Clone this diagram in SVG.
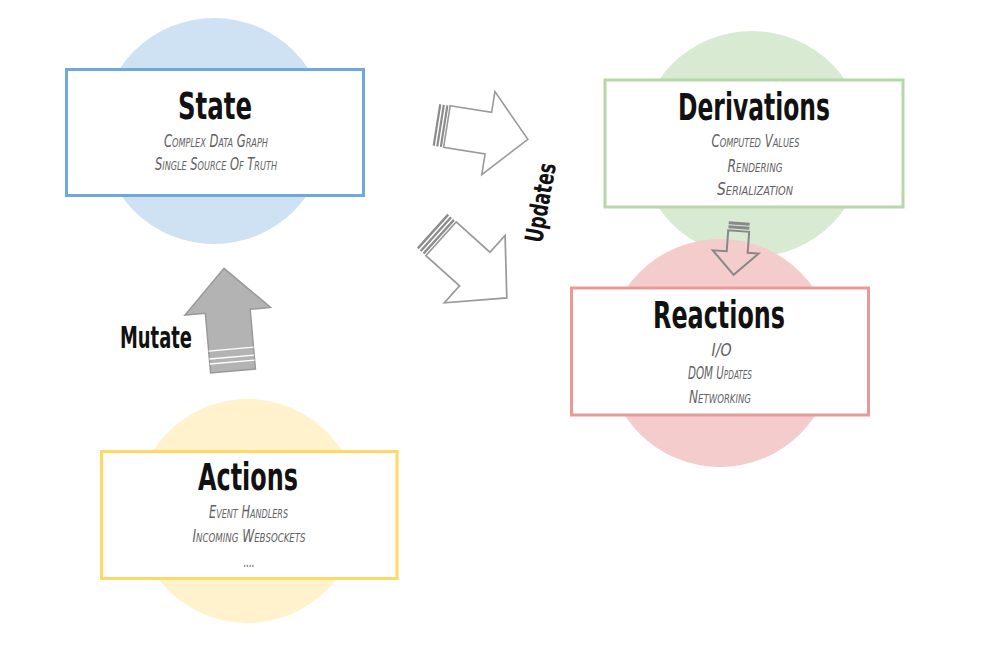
<svg xmlns="http://www.w3.org/2000/svg" width="1008" height="661" viewBox="0 0 1008 661">
<style>
.title{font-family:"DejaVu Sans Condensed","DejaVu Sans",sans-serif;font-weight:bold;fill:#111;text-anchor:middle}
.sub{font-family:"DejaVu Sans Condensed","DejaVu Sans",sans-serif;font-style:italic;font-variant:small-caps;font-size:17px;fill:#626262;text-anchor:middle}
.box{fill:#fff;stroke-width:3}
.outline{fill:none;stroke:#9a9a9a;stroke-width:1.6;stroke-linejoin:miter}
.stripe{stroke:#8c8c8c;stroke-width:2.2}
</style>
<rect width="1008" height="661" fill="#fff"/>
<g id="state">
<circle cx="214" cy="131" r="113" fill="#cfe2f3"/>
<rect class="box" x="66.5" y="69.5" width="297" height="126" stroke="#6fa8dc"/>
<text class="title" x="215" y="119" font-size="37" textLength="74" lengthAdjust="spacingAndGlyphs">State</text>
<text class="sub" x="216" y="147" textLength="104" lengthAdjust="spacingAndGlyphs">Complex Data Graph</text>
<text class="sub" x="216" y="170" textLength="122" lengthAdjust="spacingAndGlyphs">Single Source Of Truth</text>
</g>
<g id="derivations">
<circle cx="752" cy="144" r="113" fill="#d9ead3"/>
</g>
<g id="reactions">
<circle cx="720" cy="353" r="114" fill="#f4cccc"/>
<rect class="box" x="571.5" y="288" width="297" height="127" stroke="#ea9999"/>
<text class="title" x="719" y="328" font-size="37" textLength="132" lengthAdjust="spacingAndGlyphs">Reactions</text>
<text class="sub" x="721.5" y="356" textLength="20" lengthAdjust="spacingAndGlyphs">I/O</text>
<text class="sub" x="720" y="379" textLength="64" lengthAdjust="spacingAndGlyphs">DOM Updates</text>
<text class="sub" x="720" y="402.5" textLength="62" lengthAdjust="spacingAndGlyphs">Networking</text>
</g>
<g id="derivations-box">
<rect class="box" x="605" y="80" width="298" height="127" stroke="#b6d7a8"/>
<text class="title" x="754" y="120" font-size="37" textLength="152" lengthAdjust="spacingAndGlyphs">Derivations</text>
<text class="sub" x="755.5" y="147" textLength="88" lengthAdjust="spacingAndGlyphs">Computed Values</text>
<text class="sub" x="755" y="171.5" textLength="55" lengthAdjust="spacingAndGlyphs">Rendering</text>
<text class="sub" x="755" y="195" textLength="76" lengthAdjust="spacingAndGlyphs">Serialization</text>
</g>
<g id="actions">
<circle cx="247.5" cy="511" r="112" fill="#fff2cc"/>
<rect class="box" x="101.5" y="451.5" width="295.5" height="127" stroke="#ffd966"/>
<text class="title" x="248" y="490" font-size="37" textLength="100" lengthAdjust="spacingAndGlyphs">Actions</text>
<text class="sub" x="248.5" y="518" textLength="79" lengthAdjust="spacingAndGlyphs">Event Handlers</text>
<text class="sub" x="249" y="541.5" textLength="113" lengthAdjust="spacingAndGlyphs">Incoming Websockets</text>
<text class="sub" x="249" y="566.5" textLength="11" lengthAdjust="spacingAndGlyphs">....</text>
</g>
<g id="connectors">
<g id="updates-arrow-1" transform="translate(437,125) rotate(9)">
<line class="stripe" x1="0" y1="-21" x2="0" y2="21"/>
<line class="stripe" x1="3.6" y1="-21" x2="3.6" y2="21"/>
<line class="stripe" x1="7.2" y1="-21" x2="7.2" y2="21"/>
<path class="outline" d="M10,-21 L52,-21 L52,-42 L92,0 L52,42 L52,21 L10,21 Z"/>
</g>
<g id="updates-arrow-2" transform="translate(433,231.5) rotate(42) scale(1.08)">
<line class="stripe" x1="0" y1="-21" x2="0" y2="21"/>
<line class="stripe" x1="3.6" y1="-21" x2="3.6" y2="21"/>
<line class="stripe" x1="7.2" y1="-21" x2="7.2" y2="21"/>
<path class="outline" d="M10,-21 L52,-21 L52,-42 L92,0 L52,42 L52,21 L10,21 Z"/>
</g>
<text class="title" x="0" y="0" font-size="25" textLength="80" lengthAdjust="spacingAndGlyphs" transform="translate(549,204) rotate(-80)">Updates</text>
<g id="mutate-arrow" transform="translate(233,371) rotate(-5)">
<path d="M-22.5,0 L-22.5,-60 L-43,-60 L0,-103 L43,-60 L22.5,-60 L22.5,0 Z" fill="#b3b3b3" stroke="#999" stroke-width="1.5"/>
<line x1="-22.5" y1="-22" x2="22.5" y2="-22" stroke="#fff" stroke-width="1.3"/>
<line x1="-22.5" y1="-14" x2="22.5" y2="-14" stroke="#fff" stroke-width="1.3"/>
<line x1="-22.5" y1="-9" x2="22.5" y2="-9" stroke="#fff" stroke-width="1.3"/>
</g>
<text class="title" x="156" y="348" font-size="31" textLength="72" lengthAdjust="spacingAndGlyphs">Mutate</text>
<g id="reaction-arrow" transform="rotate(4,737,248)">
<rect x="727" y="222" width="21" height="3" fill="#888"/>
<rect x="727" y="226" width="21" height="3" fill="#888"/>
<path d="M727,231 L727,252 L713,252 L735.5,275 L759,252 L748,252 L748,231 Z" fill="none" stroke="#888" stroke-width="2"/>
</g>
</g>
</svg>
